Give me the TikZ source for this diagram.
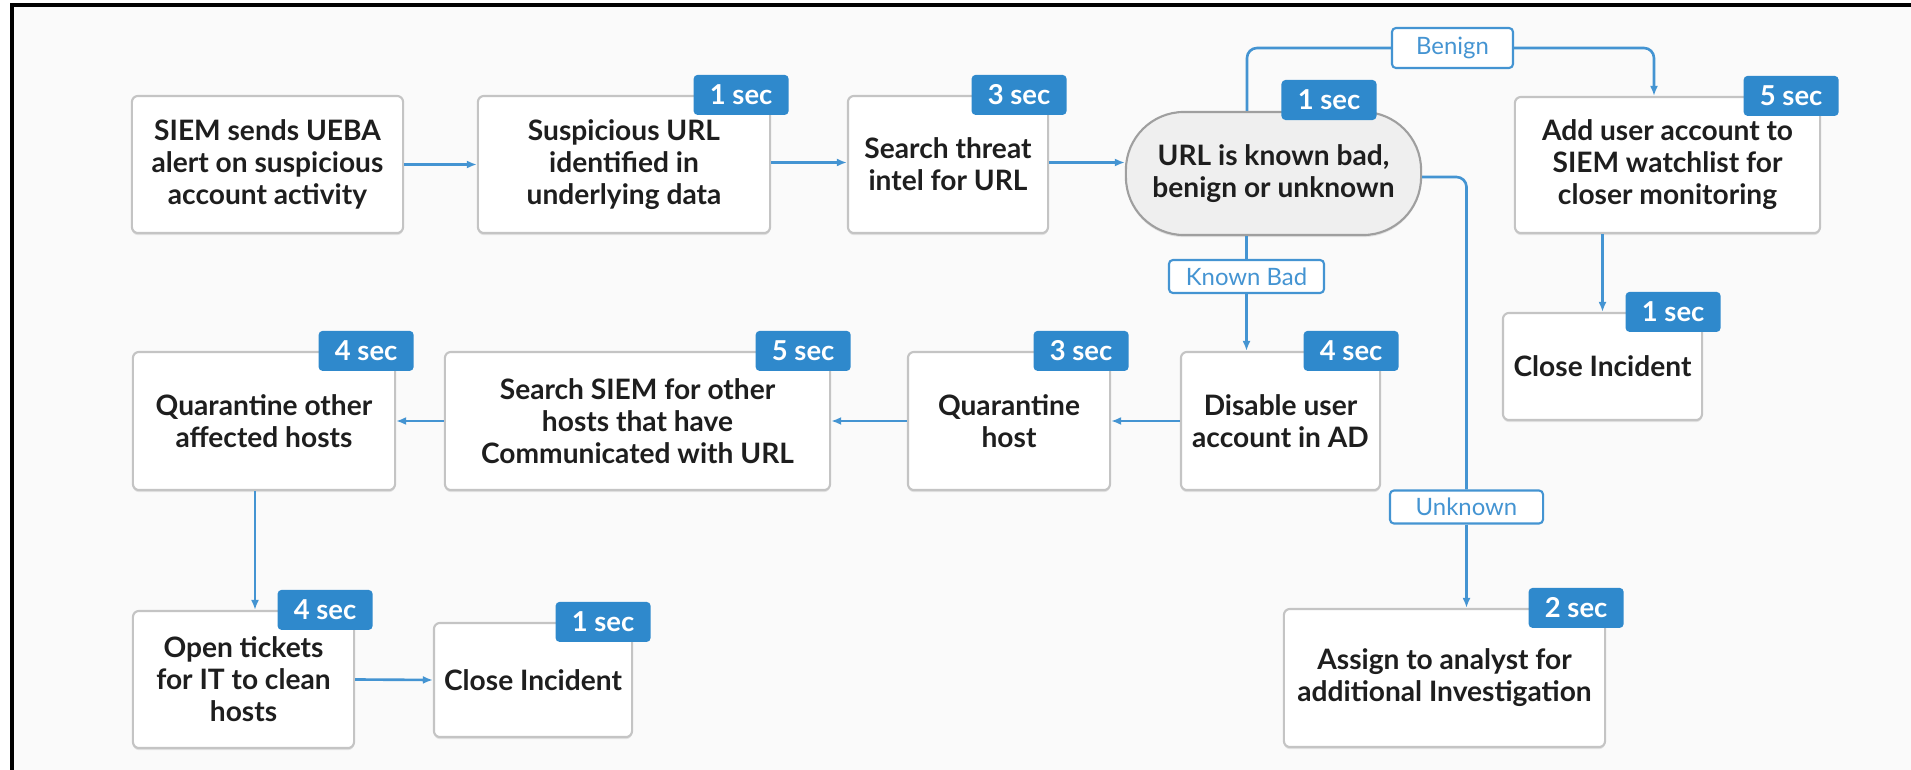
\documentclass[tikz,border=0pt]{standalone}
\usepackage{fontspec}
\setmainfont{Lato}
\usetikzlibrary{arrows.meta,shadows}

\definecolor{badgeblue}{HTML}{2F89CC}
\definecolor{lineblue}{HTML}{4494D2}
\definecolor{boxgray}{HTML}{C4C4C4}
\definecolor{decgray}{HTML}{EFEFEF}
\definecolor{bggray}{HTML}{FAFAFA}
\definecolor{txtblack}{HTML}{1E1E1E}

\tikzset{
  stepbox/.style={draw=boxgray, line width=0.6pt, fill=white, rounded corners=0.06cm,
    align=center, text=txtblack, inner sep=0pt,
    font=\fontsize{8}{9.1}\selectfont\bfseries,
    drop shadow={opacity=0.18, shadow xshift=0pt, shadow yshift=-0.6pt}},
  verdictbox/.style={stepbox, fill=decgray, draw=gray!75, rounded corners=0.58cm},
  badge/.style={fill=badgeblue, text=white, rounded corners=0.04cm, inner sep=0pt,
    minimum width=0.95cm, minimum height=0.40cm,
    font=\fontsize{7.8}{8}\selectfont\bfseries},
  branch/.style={draw=lineblue, fill=white, text=lineblue, line width=0.6pt,
    rounded corners=0.04cm, inner sep=0pt, minimum height=0.33cm,
    font=\fontsize{6.8}{7}\selectfont},
  flow/.style={draw=lineblue, line width=0.75pt, -{Latex[length=0.1cm,width=0.08cm]}},
  link/.style={draw=lineblue, line width=0.75pt, rounded corners=0.1cm}
}

\begin{document}
\begin{tikzpicture}[x=0.01cm, y=-0.01cm]

\useasboundingbox (0,0) rectangle (1911,770);
\fill[bggray] (12,5) rectangle (1911,770);
\draw[line width=1pt] (12,770) -- (12,5) -- (1911,5);

% top row
\node[stepbox, minimum width=2.71cm, minimum height=1.37cm] (alert) at (267.5,164.5) {SIEM sends UEBA\\alert on suspicious\\account activity};
\node[stepbox, minimum width=2.92cm, minimum height=1.37cm] (url) at (624,164.5) {Suspicious URL\\identified in\\underlying data};
\node[stepbox, minimum width=2.00cm, minimum height=1.37cm] (intel) at (948,164.5) {Search threat\\intel for URL};
\node[verdictbox, minimum width=2.95cm, minimum height=1.23cm] (verdict) at (1273.5,173.5) {URL is known bad,\\benign or unknown};
\node[stepbox, minimum width=3.05cm, minimum height=1.36cm] (watch) at (1667.5,165) {Add user account to\\SIEM watchlist for\\closer monitoring};
\node[stepbox, minimum width=1.99cm, minimum height=1.07cm] (closeright) at (1602.5,366.5) {Close Incident};

% middle row
\node[stepbox, minimum width=1.99cm, minimum height=1.38cm] (disable) at (1280.5,421) {Disable user\\account in AD};
\node[stepbox, minimum width=2.02cm, minimum height=1.38cm] (qhost) at (1009,421) {Quarantine\\host};
\node[stepbox, minimum width=3.85cm, minimum height=1.38cm] (search) at (637.5,421) {Search SIEM for other\\hosts that have\\Communicated with URL};
\node[stepbox, minimum width=2.62cm, minimum height=1.38cm] (qother) at (264,421) {Quarantine other\\affected hosts};

% bottom row
\node[stepbox, minimum width=2.21cm, minimum height=1.37cm] (tickets) at (243.5,679.5) {Open tickets\\for IT to clean\\hosts};
\node[stepbox, minimum width=1.98cm, minimum height=1.14cm] (closeleft) at (533,680) {Close Incident};
\node[stepbox, minimum width=3.21cm, minimum height=1.38cm] (assign) at (1444.5,678) {Assign to analyst for\\additional Investigation};

% branch labels
\node[branch, minimum width=1.21cm, minimum height=0.40cm] (benign) at (1452.5,48) {Benign};
\node[branch, minimum width=1.55cm] (knownbad) at (1246.5,276.5) {Known Bad};
\node[branch, minimum width=1.53cm] (unknown) at (1466.5,507) {Unknown};

% connectors
\draw[flow] (alert.east) -- (url.west);
\draw[flow] ([yshift=0.02cm]url.east) -- ([yshift=0.02cm]intel.west);
\draw[flow] ([yshift=0.02cm]intel.east) -- ([yshift=0.02cm]intel.east -| verdict.west);
\draw[link] ([xshift=-0.265cm]verdict.north) |- (benign.west);
\draw[flow, rounded corners=0.1cm] (benign.east) -| ([xshift=-0.135cm]watch.north);
\draw[link] (knownbad |- verdict.south) -- (knownbad.north);
\draw[flow] (knownbad.south) -- (knownbad |- disable.north);
\draw[link] ([yshift=-0.035cm]verdict.east) -| (unknown.north);
\draw[flow] (unknown.south) -- (unknown |- assign.north);
\draw[flow] (closeright.north |- watch.south) -- (closeright.north);
\draw[flow] (disable.west) -- (qhost.east);
\draw[flow] (qhost.west) -- (search.east);
\draw[flow] (search.west) -- (qother.east);
\draw[flow] ([xshift=-0.09cm]qother.south) -- ([xshift=-0.09cm]qother.south |- tickets.north);
\draw[flow] (tickets.east) -- (closeleft.west);

% time badges
\node[badge] (urltime) at ([xshift=-0.3cm]url.north east) {1 sec};
\node[badge] (inteltime) at ([xshift=-0.3cm]intel.north east) {3 sec};
\node[badge] (verdicttime) at (1329,100) {1 sec};
\node[badge] (watchtime) at ([xshift=-0.3cm]watch.north east) {5 sec};
\node[badge] (closerighttime) at ([xshift=-0.3cm]closeright.north east) {1 sec};
\node[badge] (disabletime) at ([xshift=-0.3cm]disable.north east) {4 sec};
\node[badge] (qhosttime) at ([xshift=-0.3cm]qhost.north east) {3 sec};
\node[badge] (searchtime) at ([xshift=-0.28cm]search.north east) {5 sec};
\node[badge] (qothertime) at ([xshift=-0.3cm]qother.north east) {4 sec};
\node[badge] (ticketstime) at ([xshift=-0.3cm]tickets.north east) {4 sec};
\node[badge] (closelefttime) at ([xshift=-0.3cm]closeleft.north east) {1 sec};
\node[badge] (assigntime) at ([xshift=-0.3cm]assign.north east) {2 sec};

\end{tikzpicture}
\end{document}
